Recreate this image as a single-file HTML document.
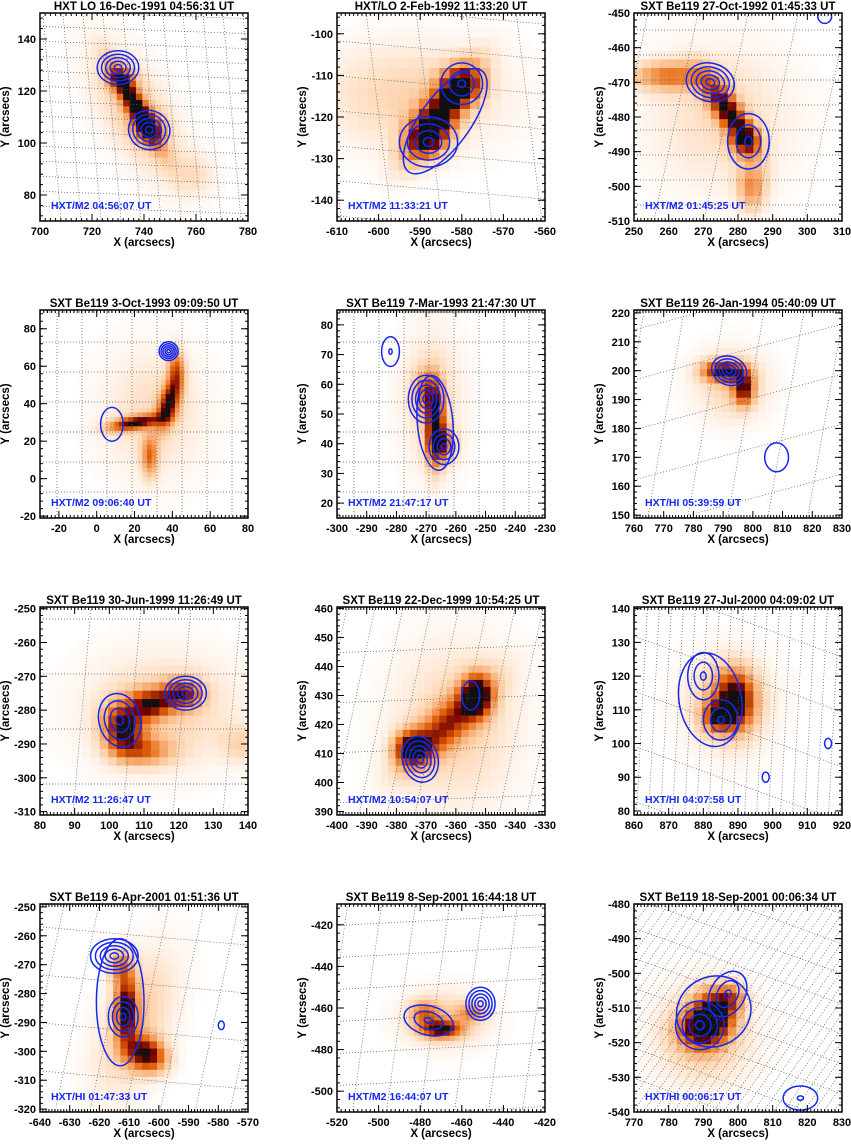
<!DOCTYPE html>
<html><head><meta charset="utf-8"><title>Solar flare SXT/HXT panels</title>
<style>
body{margin:0;background:#fff;overflow:hidden;}
svg{display:block;font-family:"Liberation Sans",Arial,sans-serif;}
</style></head>
<body>
<svg id="fig" width="851" height="1146" viewBox="0 0 851 1146" xmlns="http://www.w3.org/2000/svg" overflow="hidden"></svg>
<script>
// ---- data ----
const panelTitles = [
 "HXT LO 16-Dec-1991 04:56:31 UT","HXT/LO  2-Feb-1992 11:33:20 UT","SXT Be119 27-Oct-1992 01:45:33 UT",
 "SXT Be119  3-Oct-1993 09:09:50 UT","SXT Be119  7-Mar-1993 21:47:30 UT","SXT Be119 26-Jan-1994 05:40:09 UT",
 "SXT Be119 30-Jun-1999 11:26:49 UT","SXT Be119 22-Dec-1999 10:54:25 UT","SXT Be119 27-Jul-2000 04:09:02 UT",
 "SXT Be119  6-Apr-2001 01:51:36 UT","SXT Be119  8-Sep-2001 16:44:18 UT","SXT Be119 18-Sep-2001 00:06:34 UT"];
const hxtLabels = ["HXT/M2 04:56:07 UT","HXT/M2  11:33:21 UT","HXT/M2 01:45:25 UT",
 "HXT/M2  09:06:40 UT","HXT/M2 21:47:17 UT","HXT/HI 05:39:59 UT",
 "HXT/M2 11:26:47 UT","HXT/M2 10:54:07 UT","HXT/HI 04:07:58 UT",
 "HXT/HI 01:47:33 UT","HXT/M2 16:44:07 UT","HXT/HI 00:06:17 UT"];
const xRanges = [[700,780],[-610,-560],[250,310],[-30,80],[-300,-230],[760,830],[80,140],[-400,-330],[860,920],[-640,-570],[-520,-420],[770,830]];
const yRanges = [[70,150],[-145,-95],[-510,-450],[-21,90],[15,85],[149,221],[-311,-249.5],[388.8,460.5],[78.8,140.5],[-321,-249],[-510,-410],[-540,-480]];
const xTicks = [[700,720,740,760,780],[-610,-600,-590,-580,-570,-560],[250,260,270,280,290,300,310],[-20,0,20,40,60,80],
 [-300,-290,-280,-270,-260,-250,-240,-230],[760,770,780,790,800,810,820,830],[80,90,100,110,120,130,140],
 [-400,-390,-380,-370,-360,-350,-340,-330],[860,870,880,890,900,910,920],[-640,-630,-620,-610,-600,-590,-580,-570],
 [-520,-500,-480,-460,-440,-420],[770,780,790,800,810,820,830]];
const yTicks = [[80,100,120,140],[-140,-130,-120,-110,-100],[-510,-500,-490,-480,-470,-460,-450],[-20,0,20,40,60,80],
 [20,30,40,50,60,70,80],[150,160,170,180,190,200,210,220],[-310,-300,-290,-280,-270,-260,-250],
 [390,400,410,420,430,440,450,460],[80,90,100,110,120,130,140],[-320,-310,-300,-290,-280,-270,-260,-250],
 [-500,-480,-460,-440,-420],[-540,-530,-520,-510,-500,-490,-480]];
// SXT emission sources: [x, y, amplitude, sigmaMajor, sigmaMinor, angleDeg]
const heatSources = [
 [[737,114,0.9,12,2.5,-60],[731,125,0.4,4,3,0],[742,106,0.5,4,4,0],[737,112,0.3,20,9,-60],[760,88,0.15,6,6,0]],
 [[-585,-119,0.85,9,3,54],[-588,-125,0.5,3.5,3.5,0],[-580,-112,0.5,3.5,3,0],[-592,-115,0.25,16,9,0]],
 [[260,-468,0.5,8,3,0],[277,-478,0.85,8,2.5,-55],[282,-487,0.6,3,3,0],[284,-500,0.45,3,5,0],[275,-480,0.2,15,15,0]],
 [[20,30,0.85,10,2.5,10],[38,40,0.85,3.5,9,-15],[42,58,0.55,3,8,0],[28,12,0.5,3,8,0],[30,35,0.2,20,25,0]],
 [[-267,46,0.9,2.2,9,0],[-264,40,0.5,3,4,0],[-270,58,0.45,3,5,0],[-268,55,0.2,8,18,0]],
 [[790,200,0.85,5,2.5,0],[797,194,0.75,2.5,4,0],[793,195,0.25,9,9,0]],
 [[104,-285,0.85,4,5,0],[112,-278,0.7,4,3,0],[121,-275,0.7,4,3,0],[110,-292,0.45,6,3,0],[115,-280,0.25,16,12,0],[138,-290,0.2,4,4,0]],
 [[-353,430,0.85,3.5,5,0],[-375,412,0.85,4,4,0],[-363,420,0.6,14,4.5,45],[-360,420,0.25,15,20,0]],
 [[889,113,0.85,4,6,0],[884,108,0.6,3,3,0],[887,112,0.3,9,10,0]],
 [[-611,-285,0.85,2.5,8,0],[-604,-301,0.85,5,4,-30],[-613,-270,0.45,3,4,0],[-608,-290,0.3,8,18,-20]],
 [[-470,-470,0.85,7,3,0],[-478,-462,0.45,5,4,0],[-455,-462,0.4,5,3,0],[-468,-465,0.25,15,10,0]],
 [[793,-512,0.85,4,5,0],[788,-516,0.6,4,4,0],[798,-507,0.45,3,3,0],[790,-518,0.3,10,10,0]]];
// HXT contour sources: [x, y, rx, ry, angleDeg, levels]
const contourSets = [
 [[730,129,8,6.5,0,5],[742,105,8,7.5,-20,5]],
 [[-588,-126,7,6,0,4],[-580,-112,5,5,0,3],[-584,-121,15,6,54,1]],
 [[272,-470,7,5.5,-15,5],[283,-487,6,8,0,3],[305,-451,2,2,0,1]],
 [[8,29,6,9,0,1],[38,68,5,5,0,5]],
 [[-270,55,6,8,0,5],[-264,39,5,6,0,4],[-267,47,6,16,5,1],[-282,71,3,5,0,2]],
 [[792,200,6,5,-20,5],[808,170,4,5,0,1]],
 [[103,-283,6,8,15,4],[122,-275,6,5,0,5]],
 [[-372,408,6,8,15,5],[-355,430,3,5,0,1]],
 [[882,113,9,14,10,1],[880,120,4.5,7,0,3],[885,107,5,6,0,3],[898,90,1,1.5,0,1],[916,100,1,1.5,0,1]],
 [[-615,-267,8,6,0,5],[-612,-288,5,7,0,4],[-613,-283,8,22,0,1],[-579,-291,1,1.5,0,1]],
 [[-476,-466,12,7,-15,3],[-451,-458,7,8,0,5]],
 [[789,-515,7,7,0,4],[797,-506,5,7,-30,3],[793,-511,11,10,30,1],[818,-536,5,3.5,0,2]]];
// decorative heliographic grid: [vTiltDeg, vSpacingPx, hTiltDeg, hSpacingPx]
const gridSpec = [[-5,20,-2,15],[-7,50,-5,35],[12,50,0,25],[0,25,0,30],[0,25,0,30],[10,40,15,50],
 [5,50,0,55],[12,28,2,50],[3,12,-20,55],[12,35,-5,48],[8,34,3,32],[35,10,-20,30]];

// ---- drawing ----
const NS="http://www.w3.org/2000/svg";
const svg=document.getElementById('fig');
function mk(tag,attrs,parent){const e=document.createElementNS(NS,tag);for(const k in attrs)e.setAttribute(k,attrs[k]);(parent||svg).appendChild(e);return e;}
const stops=[[0,[255,255,255]],[0.08,[255,244,236]],[0.25,[253,213,176]],[0.45,[245,160,96]],[0.6,[232,106,16]],[0.75,[190,60,0]],[0.88,[110,0,0]],[1,[16,16,16]]];
function cmap(t){t=Math.max(0,Math.min(1,t));for(let i=1;i<stops.length;i++){if(t<=stops[i][0]){const a=stops[i-1],b=stops[i];const f=(t-a[0])/(b[0]-a[0]);const c=a[1].map((v,j)=>Math.round(v+(b[1][j]-v)*f));return `rgb(${c[0]},${c[1]},${c[2]})`;}}return 'rgb(16,16,16)';}
// clip segment to rectangle (Liang-Barsky)
function clipSeg(x1,y1,x2,y2,L,T,R,B){let t0=0,t1=1;const dx=x2-x1,dy=y2-y1;
  const p=[-dx,dx,-dy,dy],q=[x1-L,R-x1,y1-T,B-y1];
  for(let i=0;i<4;i++){if(p[i]===0){if(q[i]<0)return null;}else{const r=q[i]/p[i];if(p[i]<0){if(r>t1)return null;if(r>t0)t0=r;}else{if(r<t0)return null;if(r<t1)t1=r;}}}
  return [x1+t0*dx,y1+t0*dy,x1+t1*dx,y1+t1*dy];}
const S=208;
for(let p=0;p<12;p++){
  const col=p%3,row=Math.floor(p/3);
  const L=40+col*297,T=13+row*297;
  const [x0,x1]=xRanges[p],[y0,y1]=yRanges[p];
  const sx=v=>L+(v-x0)/(x1-x0)*S, sy=v=>T+(y1-v)/(y1-y0)*S;
  const g=mk('g',{});
  
  
  const cid='clip'+p;
  const cp=mk('clipPath',{id:cid},g);mk('rect',{x:L,y:T,width:S,height:S},cp);
  const hm=mk('g',{'clip-path':`url(#${cid})`},g);
  
  
  const cell=2.46;
  for(let xv=x0;xv<x1;xv+=cell){for(let yv=y0;yv<y1;yv+=cell){
    const cx=xv+cell/2,cy=yv+cell/2;let v=0;
    for(const s of heatSources[p]){const a=s[5]*Math.PI/180;const dx=cx-s[0],dy=cy-s[1];
      const u=dx*Math.cos(a)+dy*Math.sin(a),w=-dx*Math.sin(a)+dy*Math.cos(a);
      v+=s[2]*Math.exp(-0.5*(u*u/(s[3]*s[3])+w*w/(s[4]*s[4])));}
    if(v<0.02)continue;
    const rx=sx(xv),ry=sy(yv+cell);
    const rw=Math.min(sx(xv+cell)+0.5,L+S)-rx, rh=Math.min(sy(yv)+0.5,T+S)-Math.max(ry,T);
    if(rw<=0||rh<=0)continue;
    mk('rect',{x:rx.toFixed(2),y:Math.max(ry,T).toFixed(2),width:rw.toFixed(2),height:rh.toFixed(2),fill:cmap(v)},hm);
  }}
  const gr=mk('g',{stroke:'#555',"stroke-width":0.7,"stroke-dasharray":"1,2",fill:'none'},g);
  
  
  const [vt,vs,ht,hs]=gridSpec[p];
  const tv=Math.tan(vt*Math.PI/180),th=Math.tan(ht*Math.PI/180);
  for(let k=-S;k<2*S;k+=vs){const c=clipSeg(L+k+tv*S/2,T,L+k-tv*S/2,T+S,L,T,L+S,T+S);if(c)mk('line',{x1:c[0],y1:c[1],x2:c[2],y2:c[3]},gr);}
  for(let k=-S;k<2*S;k+=hs){const c=clipSeg(L,T+k+th*S/2,L+S,T+k-th*S/2,L,T,L+S,T+S);if(c)mk('line',{x1:c[0],y1:c[1],x2:c[2],y2:c[3]},gr);}
  const ct=mk('g',{'clip-path':`url(#${cid})`,stroke:'#1428f0',"stroke-width":1.5,fill:'none'},g);
  
  
  for(const c of contourSets[p]){const n=c[5];const px=S/(x1-x0),py=S/(y1-y0);
    for(let k=0;k<n;k++){const f=n===1?1:1-k*0.82/(n-1);
      const e=mk('ellipse',{cx:sx(c[0]).toFixed(1),cy:sy(c[1]).toFixed(1),rx:(c[2]*px*f).toFixed(1),ry:(c[3]*py*f).toFixed(1),transform:`rotate(${-c[4]} ${sx(c[0]).toFixed(1)} ${sy(c[1]).toFixed(1)})`},ct);
      
      }}
  mk('rect',{x:L,y:T,width:S,height:S,fill:'none',stroke:'#000','stroke-width':1.5},g);
  const tk=mk('g',{stroke:'#000','stroke-width':1},g);
  const xt=xTicks[p],yt=yTicks[p];
  const xstep=xt[1]-xt[0],ystep=yt[1]-yt[0];
  const xm=xstep/10,ym=ystep/5;
  for(let v=Math.ceil(x0/xm)*xm;v<=x1+1e-6;v+=xm){const X=sx(v);mk('line',{x1:X,y1:T+S,x2:X,y2:T+S-3},tk);mk('line',{x1:X,y1:T,x2:X,y2:T+3},tk);}
  for(let v=Math.ceil(y0/ym)*ym;v<=y1+1e-6;v+=ym){const Y=sy(v);mk('line',{x1:L,y1:Y,x2:L+3,y2:Y},tk);mk('line',{x1:L+S,y1:Y,x2:L+S-3,y2:Y},tk);}
  xt.forEach(v=>{const X=sx(v);mk('line',{x1:X,y1:T+S,x2:X,y2:T+S-7},tk);mk('line',{x1:X,y1:T,x2:X,y2:T+7},tk);
    const t=mk('text',{x:X,y:T+S+14,'font-size':11,'font-weight':'bold','text-anchor':'middle'},g);t.textContent=v;
    
    });
  yt.forEach(v=>{const Y=sy(v);mk('line',{x1:L,y1:Y,x2:L+7,y2:Y},tk);mk('line',{x1:L+S,y1:Y,x2:L+S-7,y2:Y},tk);
    const t=mk('text',{x:L-4,y:Y+4,'font-size':11,'font-weight':'bold','text-anchor':'end'},g);t.textContent=v;
    
    });
  const tt=mk('text',{x:L+S/2,y:T-3,'font-size':11.5,'font-weight':'bold','text-anchor':'middle'},g);tt.textContent=panelTitles[p];
  
  
  const xl=mk('text',{x:L+S/2,y:T+S+25,'font-size':11.5,'font-weight':'bold','text-anchor':'middle'},g);xl.textContent='X (arcsecs)';
  
  
  const yl=mk('text',{x:0,y:0,'font-size':11.5,'font-weight':'bold','text-anchor':'middle',transform:`translate(${L-31},${T+S/2}) rotate(-90)`},g);yl.textContent='Y (arcsecs)';
  
  
  const hl=mk('text',{x:L+11,y:T+S-12,'font-size':10.5,'font-weight':'bold',fill:'#1428f0'},g);hl.textContent=hxtLabels[p];
  
  
}
</script>
</body></html>
